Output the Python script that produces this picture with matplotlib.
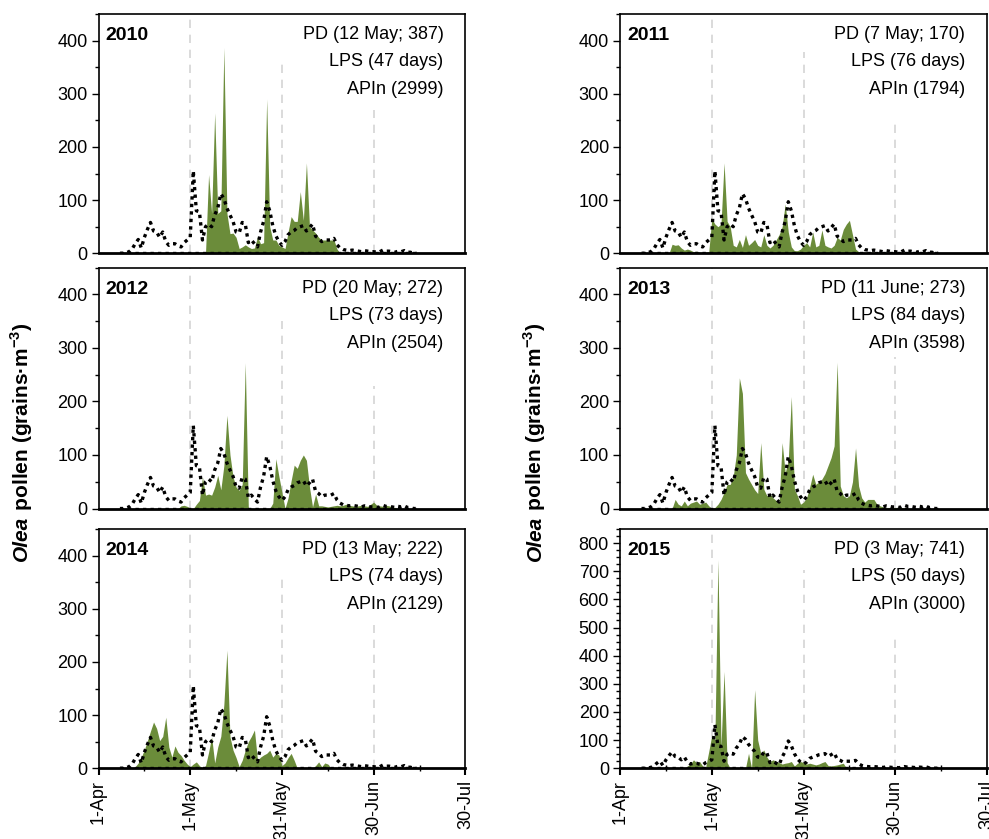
import matplotlib
matplotlib.use("Agg")
import matplotlib.pyplot as plt
from matplotlib.ticker import MultipleLocator

plt.rcParams["font.family"] = ["Liberation Sans", "DejaVu Sans"]
plt.rcParams["mathtext.fontset"] = "custom"
plt.rcParams["mathtext.rm"] = "Liberation Sans"
plt.rcParams["mathtext.bf"] = "Liberation Sans:bold"

# day index counted from 1 April (day 0)
days = list(range(7, 105))

# mean daily curve 2010-2015 (dotted line, same in every panel)
mean_curve = [
    0, 0, 1, 3, 8, 18, 26, 10, 30, 45, 58, 42, 40, 30,
    40, 22, 15, 18, 18, 14, 12, 20, 25, 30, 155, 80, 78, 25,
    50, 55, 50, 72, 85, 112, 103, 85, 72, 60, 40, 38, 58, 55,
    20, 25, 18, 12, 40, 60, 97, 80, 52, 33, 22, 15, 22, 35,
    40, 43, 48, 50, 52, 42, 48, 55, 32, 28, 22, 25, 25, 25,
    28, 16, 10, 7, 6, 5, 6, 5, 4, 3, 5, 4, 3, 3,
    2, 3, 6, 4, 4, 3, 2, 4, 3, 5, 2, 2, 0, 0,
]

pollen_2010 = [
    0, 0, 0, 0, 0, 0, 0, 0, 0, 0, 0, 0, 0, 0,
    0, 0, 0, 0, 0, 0, 0, 0, 0, 0, 0, 0, 0, 0,
    0, 148, 75, 264, 75, 80, 387, 75, 37, 38, 30, 9, 12, 16,
    12, 9, 10, 31, 18, 20, 290, 50, 25, 25, 15, 12, 9, 40,
    69, 60, 60, 116, 62, 170, 50, 44, 38, 30, 25, 25, 25, 25,
    25, 8, 0, 0, 0, 0, 0, 0, 0, 0, 0, 0, 0, 0,
    0, 0, 0, 0, 0, 0, 0, 0, 0, 0, 0, 0, 0, 0,
]

pollen_2011 = [
    0, 0, 0, 0, 0, 0, 0, 0, 0, 0, 17, 15, 16, 10,
    6, 8, 6, 3, 4, 2, 2, 2, 3, 65, 55, 50, 55, 170,
    60, 50, 15, 12, 26, 11, 35, 15, 20, 26, 15, 12, 35, 15,
    10, 15, 25, 35, 50, 93, 40, 12, 5, 5, 8, 15, 20, 12,
    40, 12, 15, 44, 15, 12, 10, 15, 30, 25, 45, 55, 62, 35,
    8, 3, 2, 2, 2, 2, 2, 2, 2, 2, 2, 2, 2, 2,
    2, 2, 2, 2, 2, 2, 2, 2, 2, 2, 1, 0, 0, 0,
]

pollen_2012 = [
    0, 0, 0, 0, 0, 0, 0, 0, 0, 0, 0, 0, 0, 0,
    0, 0, 0, 0, 0, 0, 5, 6, 4, 0, 0, 8, 15, 59,
    25, 27, 25, 40, 62, 35, 80, 174, 100, 59, 40, 34, 45, 272,
    0, 0, 0, 0, 0, 0, 0, 0, 10, 93, 60, 30, 0, 20,
    52, 81, 75, 90, 100, 90, 40, 3, 27, 5, 5, 4, 3, 4,
    5, 6, 5, 6, 8, 6, 5, 4, 5, 6, 5, 4, 8, 12,
    6, 5, 4, 6, 5, 3, 2, 0, 0, 0, 0, 0, 0, 0,
]

pollen_2013 = [
    0, 0, 0, 0, 0, 0, 0, 0, 0, 0, 0, 17, 8, 5,
    14, 5, 10, 12, 14, 8, 10, 12, 5, 0, 2, 8, 17, 30,
    45, 45, 60, 100, 244, 215, 67, 55, 45, 35, 28, 123, 36, 24,
    28, 20, 15, 12, 123, 67, 90, 209, 36, 24, 8, 12, 20, 40,
    64, 45, 50, 55, 65, 80, 95, 117, 273, 42, 24, 20, 24, 50,
    113, 42, 20, 12, 17, 17, 17, 8, 5, 3, 2, 2, 2, 2,
    2, 2, 1, 0, 0, 0, 0, 0, 0, 0, 0, 0, 0, 0,
]

pollen_2014 = [
    0, 0, 0, 0, 0, 3, 10, 21, 35, 52, 70, 87, 75, 52,
    60, 96, 40, 21, 42, 30, 24, 15, 8, 3, 8, 12, 5, 0,
    5, 30, 59, 10, 40, 60, 120, 222, 59, 34, 20, 3, 15, 34,
    50, 60, 72, 15, 21, 25, 28, 34, 21, 28, 25, 5, 10, 20,
    28, 15, 0, 0, 0, 0, 0, 0, 5, 12, 3, 10, 8, 0,
    0, 0, 0, 0, 0, 0, 0, 0, 0, 0, 0, 0, 0, 0,
    0, 0, 0, 0, 0, 0, 0, 0, 0, 0, 0, 0, 0, 0,
]

pollen_2015 = [
    0, 0, 0, 0, 0, 0, 0, 0, 0, 0, 0, 0, 0, 0,
    0, 8, 15, 30, 20, 24, 8, 5, 60, 118, 100, 741, 77, 344,
    20, 0, 0, 0, 0, 0, 0, 53, 0, 279, 100, 53, 65, 40,
    24, 30, 25, 20, 15, 18, 20, 24, 8, 18, 24, 20, 15, 18,
    15, 12, 15, 20, 24, 10, 8, 10, 12, 15, 18, 0, 0, 0,
    0, 0, 0, 0, 0, 0, 0, 0, 0, 0, 0, 0, 0, 0,
    0, 0, 0, 0, 0, 0, 0, 0, 0, 0, 0, 0, 0, 0,
]

years = ["2010", "2011", "2012", "2013", "2014", "2015"]
series = [pollen_2010, pollen_2011, pollen_2012, pollen_2013, pollen_2014, pollen_2015]
pd_text = ["PD (12 May; 387)", "PD (7 May; 170)", "PD (20 May; 272)",
           "PD (11 June; 273)", "PD (13 May; 222)", "PD (3 May; 741)"]
lps_text = ["LPS (47 days)", "LPS (76 days)", "LPS (73 days)",
            "LPS (84 days)", "LPS (74 days)", "LPS (50 days)"]
apin_text = ["APIn (2999)", "APIn (1794)", "APIn (2504)",
             "APIn (3598)", "APIn (2129)", "APIn (3000)"]
y_max = [450, 450, 450, 450, 450, 850]

tick_days = [0, 30, 60, 90, 120]
tick_labels = ["1-Apr", "1-May", "31-May", "30-Jun", "30-Jul"]
month_marks = [30, 60, 90]  # 1-May, 31-May, 30-Jun
# how far up each dashed guide runs before the text block hides it
guide_tops = [(1.0, 0.80, 0.60), (1.0, 0.84, 0.56), (1.0, 0.78, 0.51),
              (1.0, 0.84, 0.63), (1.0, 0.80, 0.60), (1.0, 0.83, 0.55)]

GREEN = "#6b8c3a"

fig = plt.figure(figsize=(9.89, 8.39), dpi=100)
col_x = [0.0996, 0.627]
rows = [(0.6981, 0.2852), (0.3939, 0.2872), (0.0843, 0.2852)]
width = 0.371

for i, year in enumerate(years):
    r, c = divmod(i, 2)
    ax = fig.add_axes([col_x[c], rows[r][0], width, rows[r][1]])

    for m, top in zip(month_marks, guide_tops[i]):
        ax.axvline(m, ymin=0, ymax=top, color="#d4d4d4", lw=1.2,
                   ls=(0, (5, 4)), zorder=0)

    ax.fill_between(days, series[i], 0, color=GREEN, lw=0, zorder=2)
    ax.plot(days, mean_curve, color="black", lw=2.4, ls=(0, (1, 1.25)), zorder=3)
    ax.plot(days, [0] * len(days), color="black", lw=2.4, ls=(0, (1, 1.25)), zorder=3)

    ax.set_xlim(0, 120)
    ax.set_ylim(0, y_max[i])
    ax.yaxis.set_major_locator(MultipleLocator(100))
    ax.yaxis.set_minor_locator(MultipleLocator(50 if y_max[i] < 500 else 25))
    ax.tick_params(axis="y", which="major", direction="out", length=5, width=1,
                   labelsize=13, pad=3)
    ax.tick_params(axis="y", which="minor", direction="out", length=3, width=1)

    ax.set_xticks(tick_days)
    ax.xaxis.set_minor_locator(MultipleLocator(15))
    if r == 2:
        ax.set_xticklabels(tick_labels, rotation=90, fontsize=13)
        ax.tick_params(axis="x", which="major", direction="out", length=5, width=1.5)
        ax.tick_params(axis="x", which="minor", direction="inout", length=4, width=1)
    else:
        ax.set_xticklabels([])
        ax.tick_params(axis="x", which="both", length=0)

    for side in ["left", "right", "top"]:
        ax.spines[side].set_linewidth(1.2)
    ax.spines["bottom"].set_linewidth(2.0)

    ax.text(0.02, 0.91, year, transform=ax.transAxes, fontsize=14,
            fontweight="bold", ha="left", va="center")
    ax.text(0.94, 0.915, pd_text[i], transform=ax.transAxes, fontsize=13,
            ha="right", va="center")
    ax.text(0.94, 0.80, lps_text[i], transform=ax.transAxes, fontsize=13,
            ha="right", va="center")
    ax.text(0.94, 0.685, apin_text[i], transform=ax.transAxes, fontsize=13,
            ha="right", va="center")


def side_label(x, yc):
    t1 = fig.text(x, 0, "Olea", rotation=90, fontsize=15, fontweight="bold",
                  fontstyle="italic", ha="center", va="bottom")
    t2 = fig.text(x, 0, " pollen (grains\u00b7m$^{\\mathbf{-3}}$)", rotation=90,
                  fontsize=15, fontweight="bold", ha="center", va="bottom")
    rend = fig.canvas.get_renderer()
    h1 = t1.get_window_extent(rend).height / fig.bbox.height
    h2 = t2.get_window_extent(rend).height / fig.bbox.height
    y0 = yc - (h1 + h2) / 2
    t1.set_y(y0)
    t2.set_y(y0 + h1)


side_label(0.022, 0.474)
side_label(0.541, 0.474)

fig.savefig("out.png", dpi=100)
